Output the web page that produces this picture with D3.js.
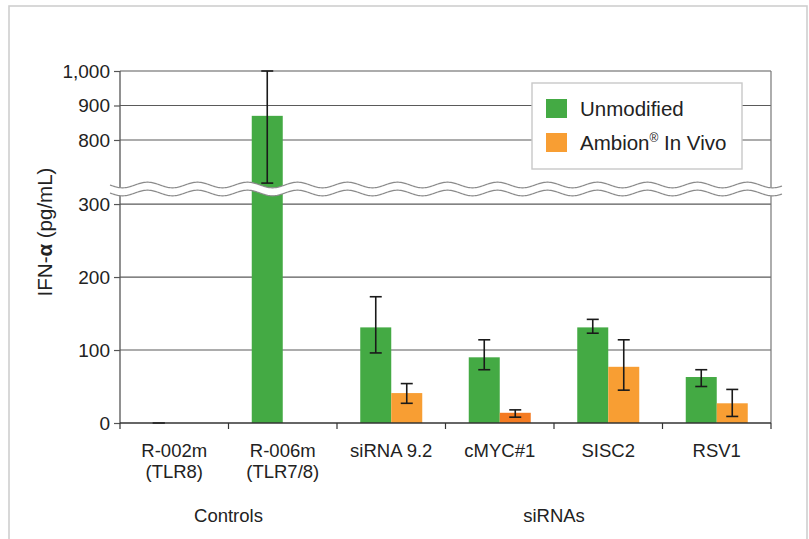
<!DOCTYPE html>
<html>
<head>
<meta charset="utf-8">
<script src="https://cdn.jsdelivr.net/npm/d3@7"></script>
<style>
    html, body { margin: 0; padding: 0; background: #fff; }
    svg { display: block; }
</style>
</head>
<body>
<div id="chart"></div>
<script>
// Chart data
const categories = ['R-002m', 'R-006m', 'siRNA 9.2', 'cMYC#1', 'SISC2', 'RSV1'];
const categorySubLabels = ['(TLR8)', '(TLR7/8)', '', '', '', ''];
const seriesNames = ['Unmodified', 'Ambion In Vivo'];

const unmodified = [0, 870, 131, 90, 131, 63];
const unmodifiedLow = [0, 675, 96, 73, 123, 50];
const unmodifiedHigh = [0, 1000, 173, 114, 142, 73];

const ambion = [0, 0, 41, 14, 77, 27];
const ambionLow = [0, 0, 27, 8, 45, 9];
const ambionHigh = [0, 0, 54, 18, 114, 46];

const groups = [
    { label: 'Controls', from: 'R-002m', to: 'R-006m' },
    { label: 'siRNAs', from: 'siRNA 9.2', to: 'RSV1' }
];

const yTicks = [0, 100, 200, 300, 800, 900, 1000];

// Styles
const FONT = '"Liberation Sans", Arial, Helvetica, sans-serif';
const GREEN = '#44aa44';
const ORANGE = '#f89e33';
const ORANGE_DARK = '#f47b22'; // cMYC#1 bar is rendered darker in the original
const TEXT = '#222';

const width = 809;
const height = 539;
const margin = { left: 120, right: 38, top: 71, bottom: 116 };
const plotRight = width - margin.right;
const plotBottom = height - margin.bottom;

const svg = d3.select('#chart')
    .append('svg')
    .attr('width', width)
    .attr('height', height)
    .style('font-family', FONT);

// Outer frame
svg.append('rect')
    .attr('x', 9)
    .attr('y', 6)
    .attr('width', 798)
    .attr('height', 600)
    .attr('fill', 'none')
    .attr('stroke', '#cfcfcf')
    .attr('stroke-width', 1.6);

// Scales (broken y axis: lower 0-325, upper 675-1000)
const x = d3.scaleBand()
    .domain(categories)
    .range([margin.left, plotRight])
    .paddingInner(0)
    .paddingOuter(0);

const x1 = d3.scaleBand()
    .domain(seriesNames)
    .range([0, x.bandwidth()])
    .paddingInner(0)
    .paddingOuter(0.75);

const y = d3.scaleLinear()
    .domain([0, 325, 675, 1000])
    .range([plotBottom, 185.8, 183.1, margin.top]);

// Gridlines
svg.append('g')
    .selectAll('line')
    .data(yTicks.filter(d => d > 0))
    .join('line')
    .attr('x1', margin.left)
    .attr('x2', plotRight)
    .attr('y1', d => y(d))
    .attr('y2', d => y(d))
    .attr('stroke', '#5a5a5a')
    .attr('stroke-width', 1.2);

// Right border of the plot area
svg.append('line')
    .attr('x1', plotRight)
    .attr('x2', plotRight)
    .attr('y1', margin.top)
    .attr('y2', plotBottom)
    .attr('stroke', '#777')
    .attr('stroke-width', 1.2);

// Bars
const rows = categories.map((c, i) => ({
    cat: c,
    values: [
        { key: seriesNames[0], v: unmodified[i], lo: unmodifiedLow[i], hi: unmodifiedHigh[i] },
        { key: seriesNames[1], v: ambion[i], lo: ambionLow[i], hi: ambionHigh[i] }
    ]
}));

const barColor = (d, cat) => {
    if (d.key === seriesNames[0]) return GREEN;
    return cat === 'cMYC#1' ? ORANGE_DARK : ORANGE;
};

const catGroups = svg.append('g')
    .selectAll('g')
    .data(rows)
    .join('g')
    .attr('transform', d => `translate(${x(d.cat)},0)`);

catGroups.selectAll('rect')
    .data(d => d.values.map(v => ({ ...v, cat: d.cat })))
    .join('rect')
    .attr('x', d => x1(d.key))
    .attr('y', d => y(d.v))
    .attr('width', x1.bandwidth())
    .attr('height', d => y(0) - y(d.v))
    .attr('fill', d => barColor(d, d.cat));

// Error bars
const capW = 12;
const errData = rows.flatMap(r => r.values
    .filter(v => v.key === seriesNames[0] || v.v > 0)
    .map(v => ({ ...v, cx: x(r.cat) + x1(v.key) + x1.bandwidth() / 2 })));

const err = svg.append('g')
    .attr('stroke', '#1a1a1a')
    .attr('stroke-width', 1.6)
    .selectAll('g')
    .data(errData)
    .join('g');

err.append('line')
    .attr('x1', d => d.cx).attr('x2', d => d.cx)
    .attr('y1', d => y(d.lo)).attr('y2', d => y(d.hi));
err.append('line')
    .attr('x1', d => d.cx - capW / 2).attr('x2', d => d.cx + capW / 2)
    .attr('y1', d => y(d.hi)).attr('y2', d => y(d.hi));
err.append('line')
    .attr('x1', d => d.cx - capW / 2).attr('x2', d => d.cx + capW / 2)
    .attr('y1', d => y(d.lo)).attr('y2', d => y(d.lo));

// Y axis
const yAxis = svg.append('g')
    .attr('transform', `translate(${margin.left},0)`)
    .call(d3.axisLeft(y).tickValues(yTicks).tickFormat(d3.format(',')).tickSize(6).tickPadding(4));
yAxis.select('.domain')
    .attr('stroke', '#555')
    .attr('stroke-width', 1.3)
    .attr('d', `M0,${plotBottom}V${margin.top}`);
yAxis.selectAll('.tick line').attr('stroke', '#555').attr('stroke-width', 1.2);
yAxis.selectAll('.tick text')
    .attr('fill', TEXT)
    .attr('font-size', '19px')
    .attr('font-family', FONT);

// X axis
const xAxis = svg.append('g')
    .attr('transform', `translate(0,${plotBottom})`);
xAxis.append('line')
    .attr('x1', margin.left).attr('x2', plotRight)
    .attr('stroke', '#333').attr('stroke-width', 1.4);
xAxis.selectAll('.xtick')
    .data(categories.map(c => x(c)).concat([plotRight]))
    .join('line')
    .attr('class', 'xtick')
    .attr('x1', d => d).attr('x2', d => d)
    .attr('y1', 0).attr('y2', 6)
    .attr('stroke', '#333').attr('stroke-width', 1.2);

const catLabels = xAxis.selectAll('.cat')
    .data(categories)
    .join('text')
    .attr('class', 'cat')
    .attr('x', d => x(d) + x.bandwidth() / 2)
    .attr('text-anchor', 'middle')
    .attr('fill', TEXT)
    .attr('font-size', '18.5px');
catLabels.append('tspan')
    .attr('x', d => x(d) + x.bandwidth() / 2)
    .attr('y', 34)
    .text(d => d);
catLabels.append('tspan')
    .attr('x', d => x(d) + x.bandwidth() / 2)
    .attr('y', 55)
    .text((d, i) => categorySubLabels[i]);

// Group labels
xAxis.selectAll('.grp')
    .data(groups)
    .join('text')
    .attr('class', 'grp')
    .attr('x', d => (x(d.from) + x(d.to) + x.bandwidth()) / 2)
    .attr('y', 99)
    .attr('text-anchor', 'middle')
    .attr('fill', TEXT)
    .attr('font-size', '18.5px')
    .text(d => d.label);

// Axis break: white band between two wavy lines
const waveX = d3.range(110, 783, 1);
const waveY = (d, offset) => 185 + offset + 2.8 * Math.sin((d - 110) / 50 * 2 * Math.PI);

const bandTop = waveX.map(d => [d, waveY(d, 0)]);
const bandBottom = waveX.map(d => [d, waveY(d, 8)]).reverse();
svg.append('path')
    .attr('d', d3.line()(bandTop.concat(bandBottom)) + 'Z')
    .attr('fill', '#fff');
[0, 8].forEach(o => {
    svg.append('path')
        .attr('d', d3.line().x(d => d).y(d => waveY(d, o))(waveX))
        .attr('fill', 'none')
        .attr('stroke', '#8a8a8a')
        .attr('stroke-width', 1.2);
});

// Y axis title
svg.append('text')
    .attr('transform', 'translate(52,232) rotate(-90)')
    .attr('text-anchor', 'middle')
    .attr('fill', TEXT)
    .attr('font-size', '20.5px')
    .call(t => {
        t.append('tspan').text('IFN-');
        t.append('tspan').attr('font-weight', 'bold').text('α');
        t.append('tspan').text(' (pg/mL)');
    });

// Legend
const legend = svg.append('g');
legend.append('rect')
    .attr('x', 532)
    .attr('y', 83)
    .attr('width', 210)
    .attr('height', 86)
    .attr('fill', '#fff')
    .attr('stroke', '#c8c8c8')
    .attr('stroke-width', 1.4);

const legendItems = legend.selectAll('g')
    .data(seriesNames)
    .join('g')
    .attr('transform', (d, i) => `translate(546,${99 + i * 34})`);
legendItems.append('rect')
    .attr('width', 21)
    .attr('height', 19)
    .attr('fill', (d, i) => i === 0 ? GREEN : ORANGE);
legendItems.append('text')
    .attr('x', 34)
    .attr('y', 17)
    .attr('fill', TEXT)
    .attr('font-size', '20.5px')
    .each(function(d) {
        const t = d3.select(this);
        if (d === seriesNames[1]) {
            t.append('tspan').text('Ambion');
            t.append('tspan').attr('font-size', '12px').attr('dy', -8).text('®');
            t.append('tspan').attr('dy', 8).text(' In Vivo');
        } else {
            t.text(d);
        }
    });
</script>
</body>
</html>
